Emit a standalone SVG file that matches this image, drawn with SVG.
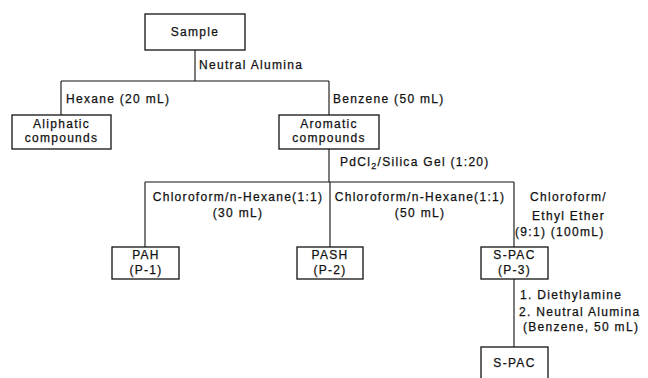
<svg xmlns="http://www.w3.org/2000/svg" width="648" height="378" viewBox="0 0 648 378">
<style>
.box{fill:#fff;stroke:#111;stroke-width:1.3}
.ln{fill:none;stroke:#111;stroke-width:1.1}
text{font-family:"Liberation Sans",Arial,sans-serif;font-size:12px;letter-spacing:1.3px;fill:#111;stroke:#111;stroke-width:0.25}
.c{text-anchor:middle}
</style>
<rect width="648" height="378" fill="#fff"/>
<g id="connectors">
<path class="ln" d="M195,50V81M61,81H329M61,81V115M329,81V115M329,149V182M145,182H514M145,182V247M330,182V247M514,182V247M514,279V347"/>
</g>
<g id="labels">
<text x="199" y="69">Neutral Alumina</text>
<text x="66" y="103">Hexane (20 mL)</text>
<text x="333" y="103">Benzene (50 mL)</text>
<text x="340" y="166">PdCl<tspan font-size="9" dy="3">2</tspan><tspan dy="-3">/Silica Gel (1:20)</tspan></text>
<text class="c" x="238" y="201">Chloroform/n-Hexane(1:1)</text>
<text class="c" x="238" y="217">(30 mL)</text>
<text class="c" x="420" y="201">Chloroform/n-Hexane(1:1)</text>
<text class="c" x="420" y="217">(50 mL)</text>
<text x="530" y="201">Chloroform/</text>
<text x="532" y="220">Ethyl Ether</text>
<text x="515" y="236">(9:1) (100mL)</text>
<text x="520" y="299">1. Diethylamine</text>
<text x="519" y="316">2. Neutral Alumina</text>
<text x="523" y="331">(Benzene, 50 mL)</text>
</g>
<g id="sample"><rect class="box" x="145" y="14" width="100" height="36"/><text class="c" x="195" y="36">Sample</text></g>
<g id="aliphatic"><rect class="box" x="12" y="115" width="99" height="34"/><text class="c" x="61.5" y="128">Aliphatic</text><text class="c" x="61.5" y="142">compounds</text></g>
<g id="aromatic"><rect class="box" x="279" y="115" width="100" height="34"/><text class="c" x="329" y="128">Aromatic</text><text class="c" x="329" y="142">compounds</text></g>
<g id="pah"><rect class="box" x="112" y="247" width="67" height="32"/><text class="c" x="146" y="259">PAH</text><text class="c" x="146" y="274">(P-1)</text></g>
<g id="pash"><rect class="box" x="297" y="247" width="66" height="32"/><text class="c" x="330" y="259">PASH</text><text class="c" x="330" y="274">(P-2)</text></g>
<g id="spac3"><rect class="box" x="481" y="247" width="67" height="32"/><text class="c" x="514.5" y="259">S-PAC</text><text class="c" x="514.5" y="274">(P-3)</text></g>
<g id="spac"><rect class="box" x="481" y="347" width="67" height="40"/><text class="c" x="514.5" y="367">S-PAC</text></g>
</svg>
